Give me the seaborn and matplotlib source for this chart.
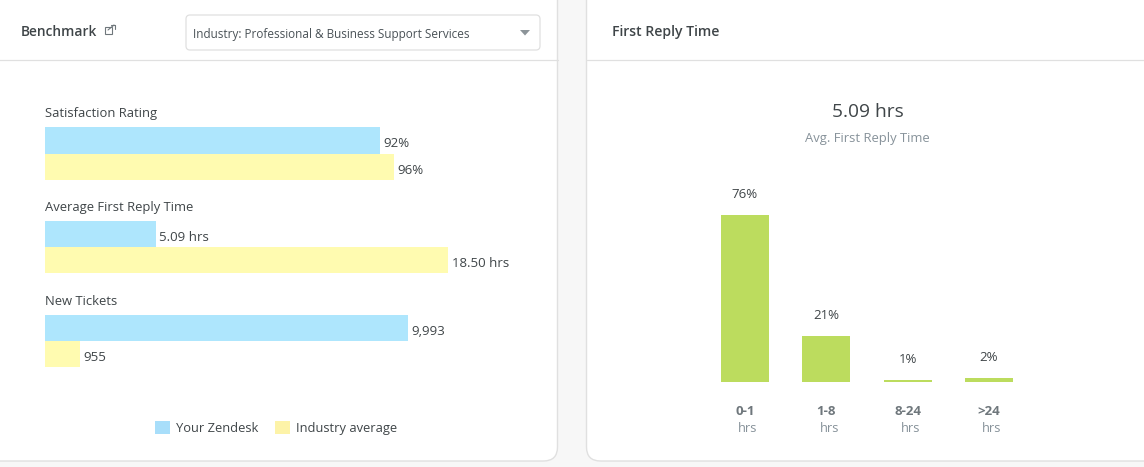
import matplotlib
matplotlib.use("Agg")
import matplotlib.pyplot as plt
from matplotlib.patches import FancyBboxPatch, Rectangle, Polygon, Patch
import pandas as pd
import seaborn as sns

sns.set_theme(style="white")
plt.rcParams["font.family"] = ["Open Sans", "DejaVu Sans"]

W, H = 1144, 467
series_names = ["Your Zendesk", "Industry average"]
metric_names = ["Satisfaction Rating", "Average First Reply Time", "New Tickets"]
satisfaction = [92, 96]
first_reply = [5.09, 18.50]
new_tickets = [9993, 955]
satisfaction_text = ["92%", "96%"]
first_reply_text = ["5.09 hrs", "18.50 hrs"]
new_tickets_text = ["9,993", "955"]

reply_bins = ["0-1", "1-8", "8-24", ">24"]
reply_share = [76, 21, 1, 2]
reply_text = ["76%", "21%", "1%", "2%"]

BLUE, YELLOW = "#AEE6FD", "#FFFBB0"
SWATCH_BLUE, SWATCH_YELLOW = "#A8DEFA", "#FDF3A8"
GREEN = "#BCDC5E"
DARK, GREY = "#3F4548", "#87929A"
LINE = "#E0E0E0"

fig = plt.figure(figsize=(W / 100, H / 100), dpi=100, facecolor="#F7F7F7")


def ax_px(x0, y0, x1, y1, **kw):
    return fig.add_axes([x0 / W, 1 - y1 / H, (x1 - x0) / W, (y1 - y0) / H], **kw)


bg = ax_px(0, 0, W, H, zorder=0)
bg.set_xlim(0, W)
bg.set_ylim(H, 0)
bg.axis("off")
for x0, x1 in [(-30, 557.5), (586.5, W + 30)]:
    bg.add_patch(FancyBboxPatch((x0 + 14, -16 + 14), x1 - x0 - 28, 477 - 28,
                                boxstyle="round,pad=14,rounding_size=14",
                                fc="white", ec=LINE, lw=1))
    bg.plot([x0, x1], [59.6, 59.6], color=LINE, lw=0.9)
bg.add_patch(FancyBboxPatch((190, 19), 346, 27, boxstyle="round,pad=4,rounding_size=4",
                            fc="white", ec=LINE, lw=0.9))
bg.add_patch(Polygon([[520, 30], [530, 30], [525, 35.5]], fc="#8C9499", ec="none"))
bg.add_patch(Rectangle((104.5, 27), 7, 7, fc="none", ec="#6F777C", lw=0.8))
bg.plot([108, 114], [30, 25], color="#6F777C", lw=0.8)
bg.plot([111, 115, 115], [25, 25, 28.5], color="#6F777C", lw=0.8)

bg.text(21, 32, "Benchmark", fontsize=9.9, color=DARK, va="center", weight="semibold")
bg.text(612, 32, "First Reply Time", fontsize=10.1, color=DARK, va="center", weight="semibold")
bg.text(193, 34.5, "Industry: Professional & Business Support Services", fontsize=8.45,
        color="#4A5257", va="center")
bg.text(867.5, 112, "5.09 hrs", fontsize=13.8, color=DARK, ha="center", va="center")
bg.text(867.5, 138.5, "Avg. First Reply Time", fontsize=9.4, color=GREY, ha="center", va="center")


def metric_panel(values, labels, title, y_top, y_bot, x_max):
    ax = ax_px(45, y_top, 525, y_bot, zorder=2)
    ax.patch.set_alpha(0)
    df = pd.DataFrame({"series": series_names, "value": values})
    sns.barplot(data=df, y="series", x="value", hue="series", order=series_names,
                hue_order=series_names, palette=[BLUE, YELLOW], width=1.0, dodge=False,
                legend=False, saturation=1, linewidth=0, ax=ax)
    ax.set_xlim(0, x_max)
    ax.set_ylim(1.5, -0.5)
    for cont, lab in zip(ax.containers, labels):
        for t in ax.bar_label(cont, labels=[lab], padding=2.4, fontsize=9.5, color=DARK):
            t.xyann = (t.xyann[0], t.xyann[1] - 2.6)
    ax.axis("off")
    ax.annotate(title, xy=(0, 1), xycoords="axes fraction", xytext=(0, 7),
                textcoords="offset pixels", fontsize=9.35, color=DARK, va="bottom")


metric_panel(satisfaction, satisfaction_text, metric_names[0], 127, 180, 480 / 3.64)
metric_panel(first_reply, first_reply_text, metric_names[1], 221, 273, 480 / 21.8)
metric_panel(new_tickets, new_tickets_text, metric_names[2], 315, 367, 480 / 0.03633)

ax = ax_px(704.3, 182, 1029.6, 382, zorder=2)
ax.patch.set_alpha(0)
sns.barplot(x=reply_bins, y=reply_share, color=GREEN, width=0.59, saturation=1, linewidth=0, ax=ax)
ax.set_xlim(-0.5, 3.5)
ax.set_ylim(0, 200 / 2.2)
ax.bar_label(ax.containers[0], labels=reply_text, padding=9.7, fontsize=9.5, color=DARK)
sns.despine(ax=ax, left=True, bottom=True)
ax.set_yticks([])
ax.set_ylabel("")
ax.tick_params(axis="x", length=0, pad=16.4)
ax.set_xticks(range(len(reply_bins)))
ax.set_xticklabels(reply_bins, fontsize=9.5, weight="bold", color="#6F777C")
for i in range(len(reply_bins)):
    ax.annotate("hrs", xy=(i, 0), xytext=(3, -47), textcoords="offset pixels",
                fontsize=9.3, color=GREY, ha="center", va="center")

handles = [Patch(fc=SWATCH_BLUE, ec="none"), Patch(fc=SWATCH_YELLOW, ec="none")]
fig.legend(handles, series_names, loc="center left", bbox_to_anchor=(146 / W, 1 - 428 / H),
           ncol=2, frameon=False, fontsize=9.3, labelcolor=DARK, handlelength=1.16,
           handleheight=1.16, handletextpad=0.46, columnspacing=1.3, borderpad=0.2)

fig.savefig("out.png", dpi=100, facecolor=fig.get_facecolor())
